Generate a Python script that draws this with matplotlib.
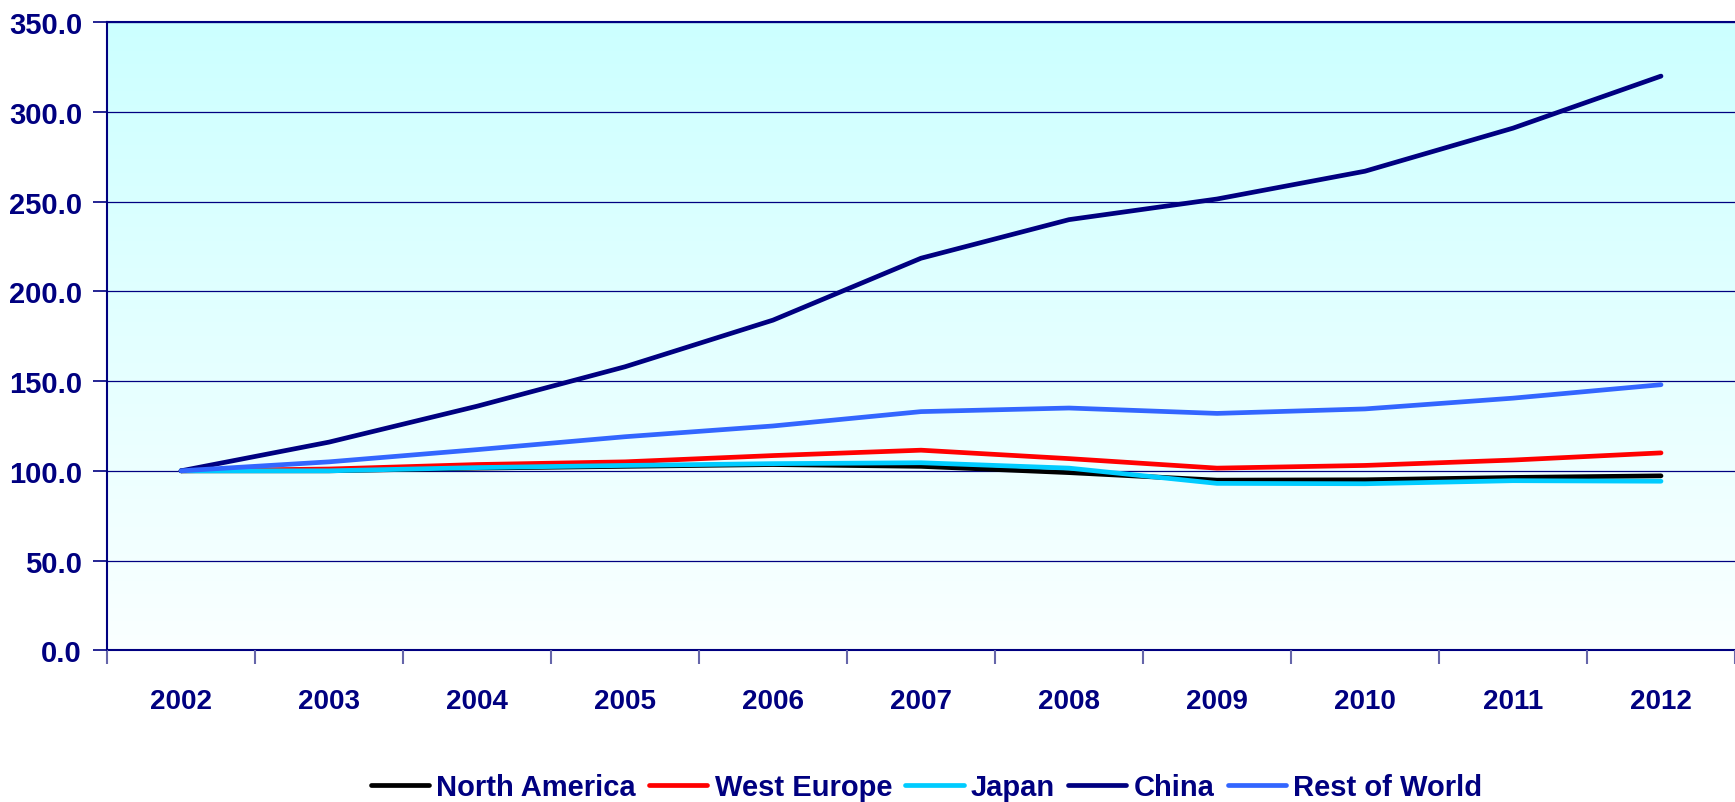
import numpy as np
import matplotlib
matplotlib.use('Agg')
from matplotlib import pyplot as plt
from matplotlib.colors import LinearSegmentedColormap

years = ['2002', '2003', '2004', '2005', '2006', '2007', '2008', '2009', '2010', '2011', '2012']
north_america = [100.0, 100.0, 101.5, 102.5, 103.5, 102.5, 99.0, 94.8, 95.0, 96.3, 97.2]
west_europe = [100.0, 101.0, 103.5, 105.0, 108.5, 111.5, 106.8, 101.5, 103.0, 106.0, 110.0]
japan = [100.0, 100.0, 101.8, 103.0, 104.0, 104.5, 101.5, 93.0, 92.8, 94.5, 94.2]
china = [100.0, 116.0, 136.0, 158.0, 184.0, 218.5, 240.0, 251.5, 267.0, 291.0, 320.0]
rest_of_world = [100.0, 105.0, 111.8, 119.0, 125.0, 133.0, 135.0, 132.0, 134.5, 140.5, 148.0]

series = [('North America', north_america, '#000000'),
          ('West Europe', west_europe, '#FF0000'),
          ('Japan', japan, '#00CCFF'),
          ('China', china, '#000080'),
          ('Rest of World', rest_of_world, '#3366FF')]

navy = '#000080'
plt.rcParams['font.family'] = ['Liberation Sans', 'DejaVu Sans']
plt.rcParams['font.weight'] = 'bold'

fig = plt.figure(figsize=(17.35, 8.03), dpi=100)
ax = fig.add_axes([0.0617, 0.189, 0.9383, 0.782])

x = np.arange(len(years))
ax.set_xlim(-0.5, len(years) - 0.5)
ax.set_ylim(0, 350)

# background gradient, light cyan at top fading to white
cmap = LinearSegmentedColormap.from_list('bg', ['#FAFFFF', '#CCFFFF'])
grad = np.linspace(0, 1, 256).reshape(-1, 1)
ax.imshow(grad, extent=[-0.5, len(years) - 0.5, 0, 350], origin='lower',
          cmap=cmap, aspect='auto', zorder=0)

for name, vals, col in series:
    ax.plot(x, vals, color=col, lw=3.4, label=name, zorder=3,
            solid_capstyle='round')

ax.set_yticks(np.arange(0, 351, 50))
ax.set_yticklabels([f'{v:.1f}' for v in np.arange(0, 351, 50)])
ax.yaxis.grid(True, color=navy, lw=0.9, zorder=1)
ax.set_axisbelow(False)

ax.set_xticks(x)
ax.set_xticklabels(years)
ax.set_xticks(np.arange(-0.5, len(years), 1), minor=True)
ax.tick_params(axis='x', which='major', length=0, pad=27, labelsize=20,
               labelcolor=navy)
ax.tick_params(axis='x', which='minor', length=10, width=1.5, color='#6666AA')
ax.tick_params(axis='y', length=10, width=1.2, color=navy, labelsize=21,
               labelcolor=navy, pad=8)

for s in ['left', 'bottom', 'top']:
    ax.spines[s].set_color(navy)
    ax.spines[s].set_linewidth(1.5)
ax.spines['right'].set_visible(False)

fig.legend(loc='lower center', bbox_to_anchor=(0.534, -0.032), ncol=5,
           frameon=False, handlelength=2.0, columnspacing=0.45,
           handletextpad=0.25, prop={'size': 21, 'weight': 'bold'},
           labelcolor=navy)

fig.savefig('out.png', dpi=100)
